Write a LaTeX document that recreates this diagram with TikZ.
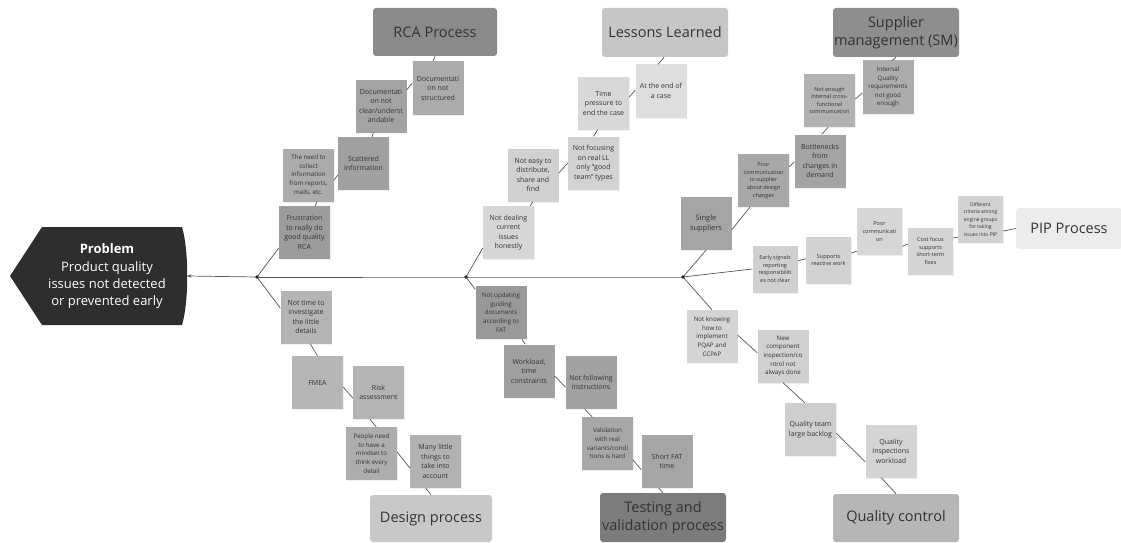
\documentclass[tikz,border=0pt]{standalone}
\usepackage{fontspec}
\setmainfont{Open Sans}
\usetikzlibrary{arrows.meta,shadows}

\definecolor{txt}{HTML}{333333}
\definecolor{linec}{HTML}{555555}
\definecolor{probfill}{HTML}{2E2E2E}

\tikzset{
  gr/.style={fill={rgb,255:red,#1;green,#1;blue,#1}},
  note/.style={rectangle, minimum width=51pt, minimum height=53pt, inner sep=0pt,
    align=center, text=txt, font=\fontsize{7}{9.5}\selectfont,
    drop shadow={shadow xshift=0.6pt, shadow yshift=-1pt, opacity=0.12}},
  smallnote/.style={note, minimum width=45pt, minimum height=47pt},
  fine/.style={font=\fontsize{6.2}{8.6}\selectfont},
  tiny/.style={font=\fontsize{5.5}{7.6}\selectfont},
  category/.style={rectangle, rounded corners=3pt, minimum width=125pt, minimum height=48pt,
    inner sep=0pt, align=center, text=txt, font=\fontsize{14.5}{18}\selectfont},
  conn/.style={draw=linec, line width=0.7pt},
  junction/.style={fill=black!85},
}

\begin{document}
\begin{tikzpicture}[x=1pt,y=-1pt]
\useasboundingbox (0,0) rectangle (1121,543);

% ---------- problem head ----------
\fill[probfill] (10,276) -- (42,227) -- (182,227)
  .. controls (189,250) and (189,302) .. (182,325) -- (42,325) -- cycle;
\node[text=white, align=center, font=\fontsize{13}{17.3}\selectfont] (prob) at (107,276.5)
  {\textbf{Problem}\\Product quality\\issues not detected\\or prevented early};
\coordinate (probtip) at (187,276);

% ---------- spine ----------
\coordinate (j1) at (257,277);
\coordinate (j2) at (466,277);
\coordinate (j3) at (683,277);

% ---------- categories ----------
\node[category, gr=138, minimum width=124pt] (rca) at (435,32) {RCA Process};
\node[category, gr=198, minimum width=126pt, minimum height=49pt] (ll) at (665,32.5) {Lessons Learned};
\node[category, gr=142, minimum width=126pt, minimum height=49pt] (sm) at (896,32.5) {Supplier\\management (SM)};
\node[category, gr=236, minimum width=106pt, minimum height=41pt] (pip) at (1069,228.5) {PIP Process};
\node[category, gr=200, minimum width=122pt, minimum height=47pt] (dp) at (431,518.5) {Design process};
\node[category, gr=124, minimum width=126pt, minimum height=49pt] (tv) at (663,517.5) {Testing and\\validation process};
\node[category, gr=182, minimum width=126pt, minimum height=48pt] (qc) at (896,518) {Quality control};

% ---------- RCA process ----------
\node[note, gr=171] (ds) at (438,88) {Documentati\\on not\\structured};
\node[note, gr=163] (dc) at (381,106) {Documentati\\on not\\clear/underst\\andable};
\node[note, gr=160] (si) at (363.5,163.5) {Scattered\\information};
\node[note, fine, gr=172] (nc) at (308.5,175) {The need to\\collect\\information\\from reports,\\mails, etc.};
\node[note, gr=156] (fr) at (304.5,232.5) {Frustration\\to really do\\good quality\\RCA};

% ---------- lessons learned ----------
\node[note, gr=222] (ae) at (661,91) {At the end of\\a case};
\node[note, gr=216] (tp) at (603.5,103) {Time\\pressure to\\end the case};
\node[note, gr=210] (nf) at (593.5,163) {Not focusing\\on real LL\\only ``good\\team'' types};
\node[note, gr=208] (ne) at (533,175) {Not easy to\\distribute,\\share and\\find};
\node[note, gr=214] (nd) at (508.5,232.5) {Not dealing\\current\\issues\\honestly};

% ---------- supplier management ----------
\node[note, fine, gr=172] (iq) at (888,87) {Internal\\Quality\\requirements\\not good\\enough};
\node[note, tiny, gr=178] (ni) at (829.5,100.5) {Not enough\\internal cross-\\functional\\communication};
\node[note, gr=164] (bn) at (820,161) {Bottlenecks\\from\\changes in\\demand};
\node[note, tiny, gr=168] (pc) at (763.5,180.5) {Poor\\communication\\to supplier\\about design\\changes};
\node[note, gr=165, font=\fontsize{7.5}{10}\selectfont] (ss) at (706,223.5) {Single\\suppliers};

% ---------- PIP process ----------
\node[smallnote, tiny, gr=208] (es) at (775,269) {Early signals\\reporting\\responsibiliti\\es not clear};
\node[smallnote, tiny, gr=210] (sr) at (828.5,260) {Supports\\reactive work};
\node[smallnote, tiny, gr=214] (pco) at (879.5,231.5) {Poor\\communicati\\on};
\node[smallnote, tiny, gr=212] (cf) at (930.5,251) {Cost focus\\supports\\short-term\\fixes};
\node[smallnote, font=\fontsize{5}{7.4}\selectfont, gr=210] (dcr) at (980.5,219.5) {Different\\criteria among\\engine groups\\for taking\\issues into PIP};

% ---------- design process ----------
\node[note, gr=180] (nt) at (306,317) {Not time to\\investigate\\the little\\details};
\node[note, gr=182] (fm) at (317.5,382.5) {FMEA};
\node[note, gr=180] (ra) at (378.5,392.5) {Risk\\assessment};
\node[note, fine, gr=173] (pn) at (371.5,453.5) {People need\\to have a\\mindset to\\think every\\detail};
\node[note, gr=178] (ml) at (435.5,461.5) {Many little\\things to\\take into\\account};

% ---------- testing and validation ----------
\node[note, fine, gr=153] (nu) at (501,312.5) {Not updating\\guiding\\documents\\according to\\FAT};
\node[note, gr=160] (wl) at (529,371) {Workload,\\time\\constraints};
\node[note, gr=162] (nfi) at (591,382.5) {Not following\\instructions};
\node[note, fine, gr=168] (va) at (607.5,443.5) {Validation\\with real\\variants/condi\\tions is hard};
\node[note, gr=166] (sf) at (667,461.5) {Short FAT\\time};

% ---------- quality control ----------
\node[note, fine, gr=212] (nk) at (712,336.5) {Not knowing\\how to\\implement\\PQAP and\\CCPAP};
\node[note, fine, gr=208] (nci) at (783,356) {New\\component\\inspection/co\\ntrol not\\always done};
\node[note, gr=206] (qt) at (810.5,429.5) {Quality team\\large backlog};
\node[note, gr=212] (qi) at (891,451) {Quality\\inspections\\workload};

% ---------- connectors ----------
\draw[conn] (j3) -- (j2) -- (j1);
\draw[conn, -{Stealth[length=4.5pt,width=3.5pt]}] (j1) -- (probtip);

% RCA chain
\draw[conn] (j1) -- (fr.211);
\draw[conn] (fr.68) -- (nc.287);
\draw[conn] (nc.349) -- (si.204);
\draw[conn] (si.72) -- (dc.254);
\draw[conn] (dc.32) -- (ds.169);
\draw[conn] (ds.101) -- (rca.south);

% lessons learned chain
\draw[conn] (j2) -- (nd.211);
\draw[conn] (nd.51) -- (ne.south);
\draw[conn] (ne.4) -- (nf.west);
\draw[conn] (nf.north) -- (tp.258);
\draw[conn] (tp.13) -- (ae.178);
\draw[conn] (ae.96) -- (ll.268);

% supplier management chain
\draw[conn] (j3) -- (ss.south);
\draw[conn] (ss.346) -- (pc.243);
\draw[conn] (pc.28) -- (bn.182);
\draw[conn] (bn.86) -- (ni.267);
\draw[conn] (ni.3) -- (iq.193);
\draw[conn] (iq.81) -- (sm.south);

% PIP chain
\draw[conn] (j3) -- (es.west);
\draw[conn] (es.20) -- (sr.177);
\draw[conn] (sr.17) -- (pco.221);
\draw[conn] (pco.327) -- (cf.163);
\draw[conn] (cf.30) -- (dcr.218);
\draw[conn] (dcr.333) -- (pip.west);

% design chain
\draw[conn] (j1) -- (nt.161);
\draw[conn] (nt.279) -- (fm.north);
\draw[conn] (fm.350) -- (ra.192);
\draw[conn] (ra.252) -- (pn.80);
\draw[conn] (pn.3) -- (ml.194);
\draw[conn] (ml.250) -- (dp.north);

% testing chain
\draw[conn] (j2) -- (nu.138);
\draw[conn] (nu.308) -- (wl.98);
\draw[conn] (wl.349) -- (nfi.190);
\draw[conn] (nfi.257) -- (va.120);
\draw[conn] (va.327) -- (sf.198);
\draw[conn] (sf.253) -- (tv.north);

% quality chain
\draw[conn] (j3) -- (nk.north);
\draw[conn] (nk.3) -- (nci.173);
\draw[conn] (nci.south) -- (qt.102);
\draw[conn] (qt.352) -- (qi.203);
\draw[conn] (qi.250) -- (qc.north);

% junction dots
\fill[junction] (j1) circle (1.8pt);
\fill[junction] (j2) circle (1.8pt);
\fill[junction] (j3) circle (1.8pt);
\end{tikzpicture}
\end{document}
